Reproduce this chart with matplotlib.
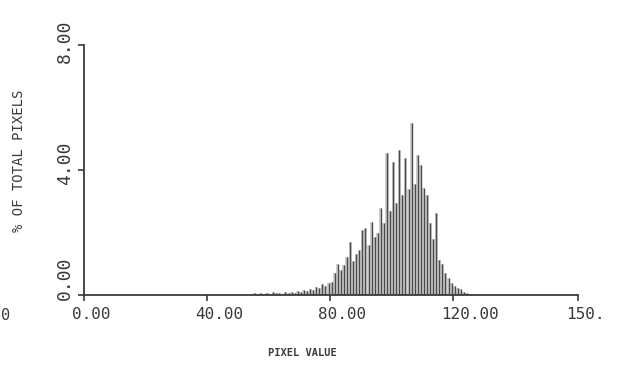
import numpy as np
import matplotlib
matplotlib.use("Agg")
import matplotlib.pyplot as plt
from matplotlib.transforms import ScaledTranslation

# Histogram of pixel values: percentage of total pixels per grey level
pixel_values = np.arange(54, 127)
percent_pixels = [
    0.03, 0.06, 0.02, 0.08, 0.04, 0.07, 0.03, 0.09, 0.05, 0.08,   # 54-63
    0.04, 0.10, 0.06, 0.11, 0.07, 0.12, 0.09, 0.15, 0.12, 0.18,   # 64-73
    0.16, 0.27, 0.22, 0.36, 0.30, 0.40, 0.43, 0.70, 1.00, 0.80,   # 74-83
    0.95, 1.23, 1.71, 1.10, 1.30, 1.44, 2.08, 2.13, 1.60, 2.35,   # 84-93
    1.85, 1.97, 2.77, 2.30, 4.53, 2.70, 4.27, 2.95, 4.64, 3.20,   # 94-103
    4.40, 3.40, 5.51, 3.55, 4.48, 4.16, 3.41, 3.20, 2.30, 1.80,   # 104-113
    2.61, 1.12, 1.00, 0.69, 0.55, 0.38, 0.30, 0.22, 0.18, 0.10,   # 114-123
    0.07, 0.04, 0.02,                                             # 124-126
]

x_ticks = [0, 40, 80, 120, 160.6]
x_tick_labels = ["0.00", "40.00", "80.00", "120.00", "150."]
y_ticks = [0, 4, 8]
y_tick_labels = ["0.00", "4.00", "8.00"]
x_label = "PIXEL VALUE"
y_label = "% OF TOTAL PIXELS"

ink = "#3a3a3a"
text_col = "#3a3a3a"
mono = "DejaVu Sans Mono"

fig = plt.figure(figsize=(6.19, 3.65), dpi=100)
W, H = 619, 365
ax = fig.add_axes([84 / W, 1 - 295 / H, (578 - 84) / W, (295 - 45) / H])

centers = pixel_values + 0.5
ax.bar(centers, percent_pixels, width=1.0, color="#cfcfcf", edgecolor="none", zorder=1)
ax.vlines(centers, 0, percent_pixels, colors="#4a4a4a", linewidth=1.0, zorder=2)

ax.set_xlim(0, 160.6)
ax.set_ylim(0, 8)
for side in ("top", "right"):
    ax.spines[side].set_visible(False)
for side in ("left", "bottom"):
    ax.spines[side].set_color(ink)
    ax.spines[side].set_linewidth(1.3)

ax.set_xticks(x_ticks, x_tick_labels)
ax.set_yticks(y_ticks, y_tick_labels)
ax.tick_params(axis="both", direction="out", color=ink, width=1.2, labelcolor=text_col)
ax.tick_params(axis="x", length=4.5, pad=4, labelsize=11.5)
ax.tick_params(axis="y", length=4.0, pad=3, labelsize=13)

off_x = ScaledTranslation(-12 / 100, 0, fig.dpi_scale_trans)
for lab in ax.get_xticklabels():
    lab.set_fontfamily(mono)
    lab.set_horizontalalignment("left")
    lab.set_transform(lab.get_transform() + off_x)

# rotated y labels start a little below their tick
y_label_drop_px = [5, 15, 18]
for lab, drop in zip(ax.get_yticklabels(), y_label_drop_px):
    lab.set_fontfamily(mono)
    lab.set_rotation(90)
    lab.set_rotation_mode("anchor")
    lab.set_horizontalalignment("left")
    lab.set_verticalalignment("bottom")
    lab.set_transform(lab.get_transform()
                      + ScaledTranslation(0, -drop / 100, fig.dpi_scale_trans))

fig.text(302 / W, 1 - 353 / H, x_label, family=mono, fontsize=7.5, color=text_col,
         ha="center", va="center", weight="bold")
fig.text(19 / W, 1 - 161 / H, y_label, family=mono, fontsize=10, color=text_col,
         ha="center", va="center", rotation=90)
# stray digit at the left page edge
fig.text(1 / W, 1 - 315 / H, "0", family=mono, fontsize=11, color=text_col,
         ha="left", va="center")

fig.savefig("out.png", dpi=100, facecolor="white")
